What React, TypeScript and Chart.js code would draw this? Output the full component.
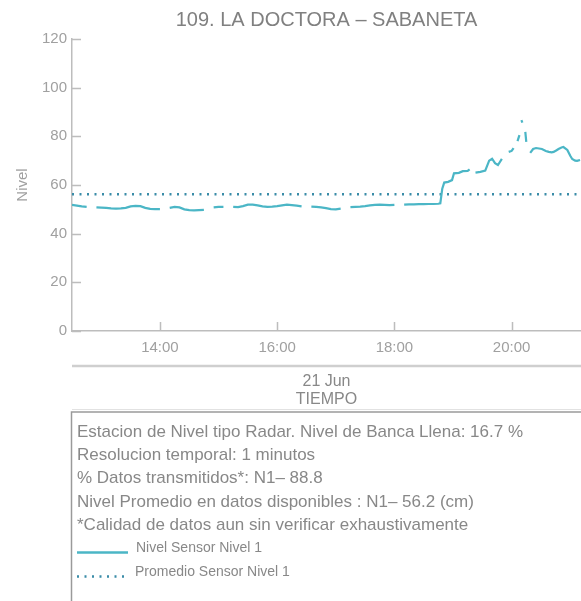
import React, { useEffect, useRef } from "react";
import { Chart, registerables } from "chart.js";

Chart.register(...registerables);

const TITLE = "109. LA DOCTORA – SABANETA";
const Y_TITLE = "Nivel";
const X_TITLE = ["21 Jun", "TIEMPO"];
const X_TICKS = ["14:00", "16:00", "18:00", "20:00"];
const X_RANGE = ["12:30", "21:11"];
const Y_MIN = 0;
const Y_MAX = 120;
const Y_STEP = 20;

const TIMES = [
  "12:30", "12:35", "12:40", "12:45", "12:50", "12:55", "13:00", "13:05", "13:10", "13:15",
  "13:20", "13:25", "13:30", "13:35", "13:40", "13:45", "13:50", "13:55", "14:00", "14:05",
  "14:10", "14:15", "14:20", "14:25", "14:30", "14:35", "14:40", "14:45", "14:50", "14:55",
  "15:00", "15:05", "15:10", "15:15", "15:20", "15:25", "15:30", "15:35", "15:40", "15:45",
  "15:50", "15:55", "16:00", "16:05", "16:10", "16:15", "16:20", "16:25", "16:30", "16:35",
  "16:40", "16:45", "16:50", "16:55", "17:00", "17:05", "17:10", "17:15", "17:20", "17:25",
  "17:30", "17:35", "17:40", "17:45", "17:50", "17:55", "18:00", "18:05", "18:10", "18:15",
  "18:20", "18:25", "18:30", "18:35", "18:40", "18:45", "18:47", "18:49", "18:51", "18:55",
  "18:59", "19:01", "19:06", "19:10", "19:15", "19:17", "19:20", "19:23", "19:28", "19:33",
  "19:37", "19:40", "19:43", "19:46", "19:50", "19:53", "19:57", "20:00", "20:02", "20:04",
  "20:06", "20:08", "20:09", "20:10", "20:11", "20:12", "20:14", "20:15", "20:17", "20:19",
  "20:22", "20:25", "20:28", "20:31", "20:35", "20:38", "20:41", "20:43", "20:46", "20:48",
  "20:51", "20:53", "20:57", "21:00", "21:02", "21:05", "21:07", "21:10",
];

const LEVELS: (number | null)[] = [
  51.8, 51.5, 51.2, 51.0, null, 50.8, 50.7, 50.6, 50.4, 50.3,
  50.4, 50.6, 51.2, 51.4, 51.3, 50.6, 50.2, 50.1, 50.1, null,
  50.6, 51.0, 50.8, 50.0, 49.7, 49.6, 49.7, 49.8, null, 50.8,
  51.0, 51.0, null, 51.0, 50.9, 51.3, 51.9, 51.9, 51.6, 51.2,
  51.0, 51.1, 51.3, 51.6, 51.9, 51.7, 51.5, 51.2, null, 51.1,
  51.0, 50.8, 50.5, 50.1, 50.0, 50.3, null, 50.9, 51.0, 51.1,
  51.3, 51.6, 51.8, 51.9, 51.8, 51.7, 51.8, null, 51.9, 52.0,
  52.0, 52.1, 52.1, 52.2, 52.2, 52.3, 52.5, 58.5, 61.0, 61.3,
  62.0, 64.8, 65.0, 65.7, 65.8, 66.4, null, 65.1, 65.4, 65.9,
  70.0, 70.8, 69.0, 68.2, 70.7, null, 73.6, 74.0, 75.2, null,
  78.0, 80.5, null, 86.7, 85.6, null, 81.8, 77.7, null, 73.2,
  74.8, 75.2, 75.0, 74.8, 74.0, 73.6, 73.4, 73.6, 74.3, 74.8,
  75.4, 75.6, 74.4, 72.0, 70.7, 70.0, 69.9, 70.3,
];

const AVERAGE = 56.2;

const INFO_LINES = [
  "Estacion de Nivel tipo Radar. Nivel de Banca Llena: 16.7 %",
  "Resolucion temporal: 1 minutos",
  "% Datos transmitidos*: N1\u2013 88.8",
  "Nivel Promedio en datos disponibles : N1\u2013 56.2 (cm)",
  "*Calidad de datos aun sin verificar exhaustivamente",
];
const SERIES_LABELS = ["Nivel Sensor Nivel 1", "Promedio Sensor Nivel 1"];

const FONT = "'Liberation Sans', Arial, Helvetica, sans-serif";
const LINE_COLOR = "#4bb6c6";
const AVG_COLOR = "#3a8ca8";
const AXIS_COLOR = "#bdbdbd";
const TICK_TEXT = "#a0a0a0";
const TEXT_COLOR = "#888888";

const toMin = (s: string) => {
  const [h, m] = s.split(":").map(Number);
  return h * 60 + m;
};
const fmt = (v: number) => {
  const h = Math.floor(v / 60);
  const m = Math.round(v - h * 60);
  return `${String(h).padStart(2, "0")}:${String(m).padStart(2, "0")}`;
};

const decorPlugin = {
  id: "decor",
  afterDraw(chart: any) {
    const { ctx, chartArea: a, scales } = chart;
    const x = scales.x;
    const y = scales.y;
    const W = chart.width;
    ctx.save();
    // inward tick marks
    ctx.strokeStyle = AXIS_COLOR;
    ctx.lineWidth = 1.5;
    ctx.beginPath();
    y.ticks.forEach((t: any) => {
      const py = Math.round(y.getPixelForValue(t.value)) + 0.5;
      ctx.moveTo(a.left, py);
      ctx.lineTo(a.left + 9, py);
    });
    x.ticks.forEach((t: any) => {
      const px = Math.round(x.getPixelForValue(t.value)) + 0.5;
      ctx.moveTo(px, a.bottom);
      ctx.lineTo(px, a.bottom - 9);
    });
    ctx.stroke();

    // separator below tick labels
    ctx.strokeStyle = "#cfcfcf";
    ctx.lineWidth = 2.5;
    ctx.beginPath();
    ctx.moveTo(a.left, x.top + 35);
    ctx.lineTo(W, x.top + 35);
    ctx.stroke();

    ctx.strokeStyle = "#e2e2e2";
    ctx.lineWidth = 1;
    ctx.beginPath();
    ctx.moveTo(a.left, x.bottom + 0.5);
    ctx.lineTo(W, x.bottom + 0.5);
    ctx.stroke();

    // info box
    const boxTop = x.bottom + 3;
    ctx.strokeStyle = "#9a9a9a";
    ctx.lineWidth = 1.5;
    ctx.strokeRect(a.left - 0.5, boxTop, W + 20, 300);

    ctx.fillStyle = TEXT_COLOR;
    ctx.textBaseline = "middle";
    ctx.textAlign = "left";
    ctx.font = `17px ${FONT}`;
    INFO_LINES.forEach((s, i) => {
      ctx.fillText(s, a.left + 5, boxTop + 20 + i * 23.3);
    });

    const ly1 = boxTop + 20 + 5 * 23.3;
    const ly2 = ly1 + 24;
    ctx.font = `14px ${FONT}`;
    ctx.fillText(SERIES_LABELS[0], a.left + 64, ly1);
    ctx.fillText(SERIES_LABELS[1], a.left + 63, ly2);

    ctx.strokeStyle = LINE_COLOR;
    ctx.lineWidth = 2.5;
    ctx.beginPath();
    ctx.moveTo(a.left + 5, ly1 + 4);
    ctx.lineTo(a.left + 56, ly1 + 4);
    ctx.stroke();

    ctx.strokeStyle = AVG_COLOR;
    ctx.setLineDash([2, 5.5]);
    ctx.beginPath();
    ctx.moveTo(a.left + 5, ly2 + 4);
    ctx.lineTo(a.left + 52, ly2 + 4);
    ctx.stroke();
    ctx.restore();
  },
};

export default function App() {
  const ref = useRef<HTMLCanvasElement | null>(null);

  useEffect(() => {
    if (!ref.current) return;
    Chart.defaults.font.family = FONT;
    const xMin = toMin(X_RANGE[0]);
    const xMax = toMin(X_RANGE[1]);
    const levelData = TIMES.map((t, i) => ({ x: toMin(t), y: LEVELS[i] }));
    const avgData = [
      { x: xMin, y: AVERAGE },
      { x: xMax, y: AVERAGE },
    ];
    const chart = new Chart(ref.current, {
      type: "line",
      data: {
        datasets: [
          {
            label: SERIES_LABELS[0],
            data: levelData as any,
            borderColor: LINE_COLOR,
            borderWidth: 2.2,
            pointRadius: 0,
            spanGaps: false,
            tension: 0,
          },
          {
            label: SERIES_LABELS[1],
            data: avgData,
            borderColor: AVG_COLOR,
            borderWidth: 2.5,
            borderDash: [2, 5.5],
            pointRadius: 0,
          },
        ],
      },
      options: {
        responsive: false,
        animation: false,
        layout: { padding: { left: 0, right: 0, top: 0, bottom: 192 } },
        plugins: {
          legend: { display: false },
          tooltip: { enabled: false },
          title: {
            display: true,
            text: TITLE,
            fullSize: false,
            color: "#808080",
            font: { size: 20, weight: "normal", family: FONT },
            padding: { top: 8, bottom: 7 },
          },
        },
        scales: {
          x: {
            type: "linear",
            min: xMin,
            max: xMax,
            afterFit: (s: any) => {
              s.height = 78;
            },
            afterBuildTicks: (s: any) => {
              s.ticks = X_TICKS.map((t) => ({ value: toMin(t) }));
            },
            grid: { display: false, drawTicks: false },
            border: { display: true, color: AXIS_COLOR, width: 1.5 },
            ticks: {
              color: TICK_TEXT,
              font: { size: 15 },
              padding: 8,
              maxRotation: 0,
              autoSkip: false,
              callback: (v: any) => fmt(Number(v)),
            },
            title: {
              display: true,
              text: X_TITLE,
              color: TEXT_COLOR,
              font: { size: 16, lineHeight: 1.08 },
              padding: { top: 0, bottom: 1 },
            },
          },
          y: {
            min: Y_MIN,
            max: Y_MAX,
            afterFit: (s: any) => {
              s.width = 72;
            },
            grid: { display: false, drawTicks: false },
            border: { display: true, color: AXIS_COLOR, width: 1.5 },
            ticks: {
              stepSize: Y_STEP,
              color: TICK_TEXT,
              font: { size: 15 },
              padding: 5,
            },
            title: {
              display: true,
              text: Y_TITLE,
              color: TICK_TEXT,
              font: { size: 15 },
              padding: { top: 13.5, bottom: 0 },
            },
          },
        },
      },
      plugins: [decorPlugin],
    });
    return () => chart.destroy();
  }, []);

  return (
    <div style={{ position: "absolute", left: 0, top: 0, width: 581, height: 601, background: "#fff" }}>
      <canvas ref={ref} width={581} height={601} style={{ width: 581, height: 601, display: "block" }} />
    </div>
  );
}
